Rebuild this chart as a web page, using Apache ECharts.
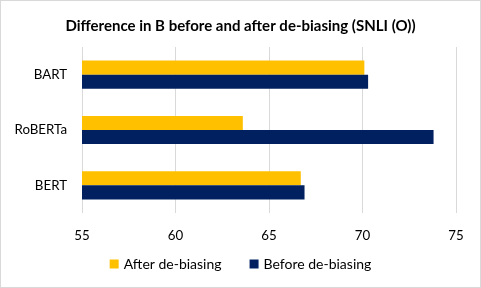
<!DOCTYPE html>
<html><head><meta charset="utf-8">
<script src="https://cdn.jsdelivr.net/npm/echarts@6/dist/echarts.min.js"></script>
<style>html,body{margin:0;padding:0;background:#fff}#c{width:481px;height:288px;box-sizing:border-box;border:1px solid #d9d9d9}</style>
</head><body><div id="c"></div>
<script>
const categories = ['BERT', 'RoBERTa', 'BART'];
const afterDebiasing = [66.7, 63.6, 70.1];
const beforeDebiasing = [66.9, 73.8, 70.3];
const xTicks = [55, 60, 65, 70, 75];
const seriesNames = ['After de-biasing', 'Before de-biasing'];

const chart = echarts.init(document.getElementById('c'));
const font = 'Lato, "Open Sans", sans-serif';
chart.setOption({
  animation: false,
  title: {
    text: 'Difference in B before and after de-biasing (SNLI (O))',
    left: 'center', top: 13,
    textStyle: { fontFamily: font, fontSize: 15, fontWeight: 'bold', color: '#000' }
  },
  legend: {
    data: seriesNames, bottom: 11, left: 'center',
    itemWidth: 9, itemHeight: 9, itemGap: 28, icon: 'rect',
    textStyle: { fontFamily: font, fontSize: 14, color: '#000' }
  },
  grid: { left: 81, right: 24, top: 46, bottom: 74, containLabel: false },
  xAxis: {
    type: 'value', min: xTicks[0], max: xTicks[xTicks.length - 1], interval: 5,
    axisLine: { show: false }, axisTick: { show: false },
    splitLine: { lineStyle: { color: '#d9d9d9', width: 1 } },
    axisLabel: { fontFamily: font, fontSize: 13.3, color: '#000', margin: 16 }
  },
  yAxis: {
    type: 'category', data: categories,
    axisLine: { show: false }, axisTick: { show: false },
    axisLabel: { fontFamily: font, fontSize: 13.3, color: '#000', margin: 15 }
  },
  series: [
    { name: seriesNames[0], type: 'bar', data: afterDebiasing, itemStyle: { color: '#FFC000' },
      barGap: '0%', barCategoryGap: '49%' },
    { name: seriesNames[1], type: 'bar', data: beforeDebiasing, itemStyle: { color: '#002060' },
      barGap: '0%', barCategoryGap: '49%' }
  ]
});
</script></body></html>
